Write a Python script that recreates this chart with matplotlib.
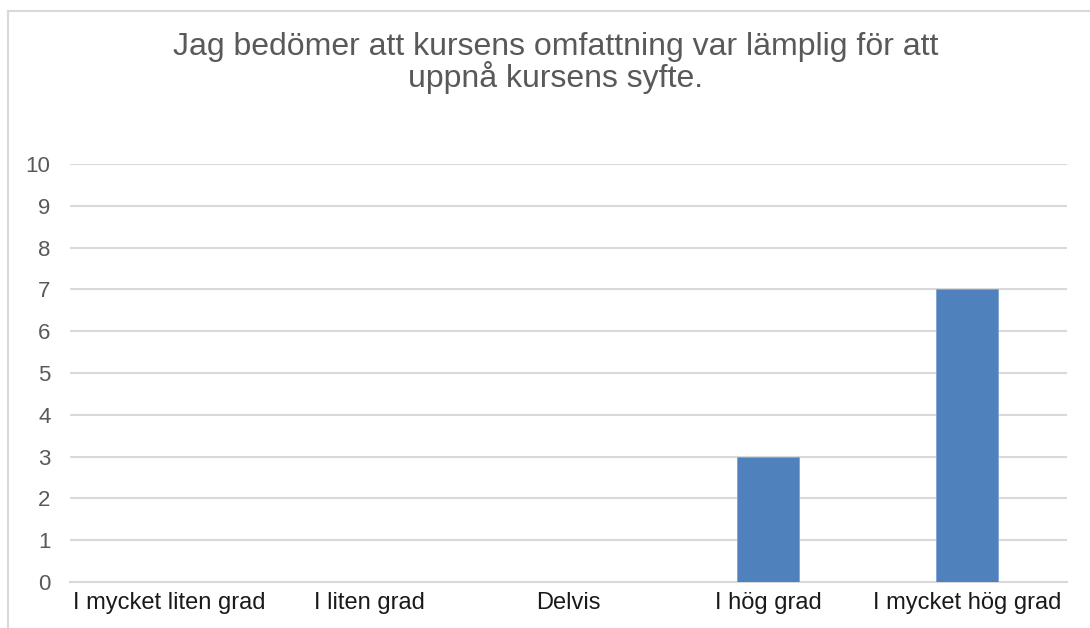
import matplotlib
matplotlib.use("Agg")
import matplotlib.pyplot as plt
from matplotlib.lines import Line2D

plt.rcParams['font.family'] = ['Liberation Sans', 'DejaVu Sans']

# svarsalternativ och antal svar
categories = ["I mycket liten grad", "I liten grad", "Delvis", "I hög grad", "I mycket hög grad"]
counts = [0, 0, 0, 3, 7]
title = "Jag bedömer att kursens omfattning var lämplig för att\nuppnå kursens syfte."

W, H = 1090, 628
fig = plt.figure(figsize=(W / 100, H / 100), dpi=100)
ax = fig.add_axes([70 / W, 1 - 582 / H, (1067 - 70) / W, (582 - 164) / H])

x = range(len(categories))
ax.bar(x, counts, width=0.31, color="#4F81BD", edgecolor="#7ea3d3", linewidth=0.6, zorder=3)

ax.set_xlim(-0.5, len(categories) - 0.5)
ax.set_ylim(0, 10)
ax.set_yticks(range(0, 11))
ax.set_xticks(list(x))
ax.set_xticklabels(categories, fontsize=17, color="#1a1a1a")
ax.tick_params(axis="x", length=0, pad=7)
ax.tick_params(axis="y", length=0, pad=14, labelsize=16, labelcolor="#595959")

ax.yaxis.grid(True, color="#d9d9d9", linewidth=1.5, zorder=0)
for s in ["top", "right", "left"]:
    ax.spines[s].set_visible(False)
ax.spines["bottom"].set_color("#d9d9d9")
ax.spines["bottom"].set_linewidth(1.5)
ax.spines["bottom"].set_zorder(1)

fig.text(556 / W, 1 - 32 / H, title, ha="center", va="top", fontsize=23,
         color="#595959", linespacing=0.98)

# ramen runt diagrammet
fig.add_artist(Line2D([7.5 / W, 7.5 / W], [0, 1 - 10.5 / H], color="#d9d9d9", linewidth=1.5))
fig.add_artist(Line2D([7.5 / W, 1], [1 - 10.5 / H, 1 - 10.5 / H], color="#d9d9d9", linewidth=1.5))

fig.savefig("out.png", dpi=100)
